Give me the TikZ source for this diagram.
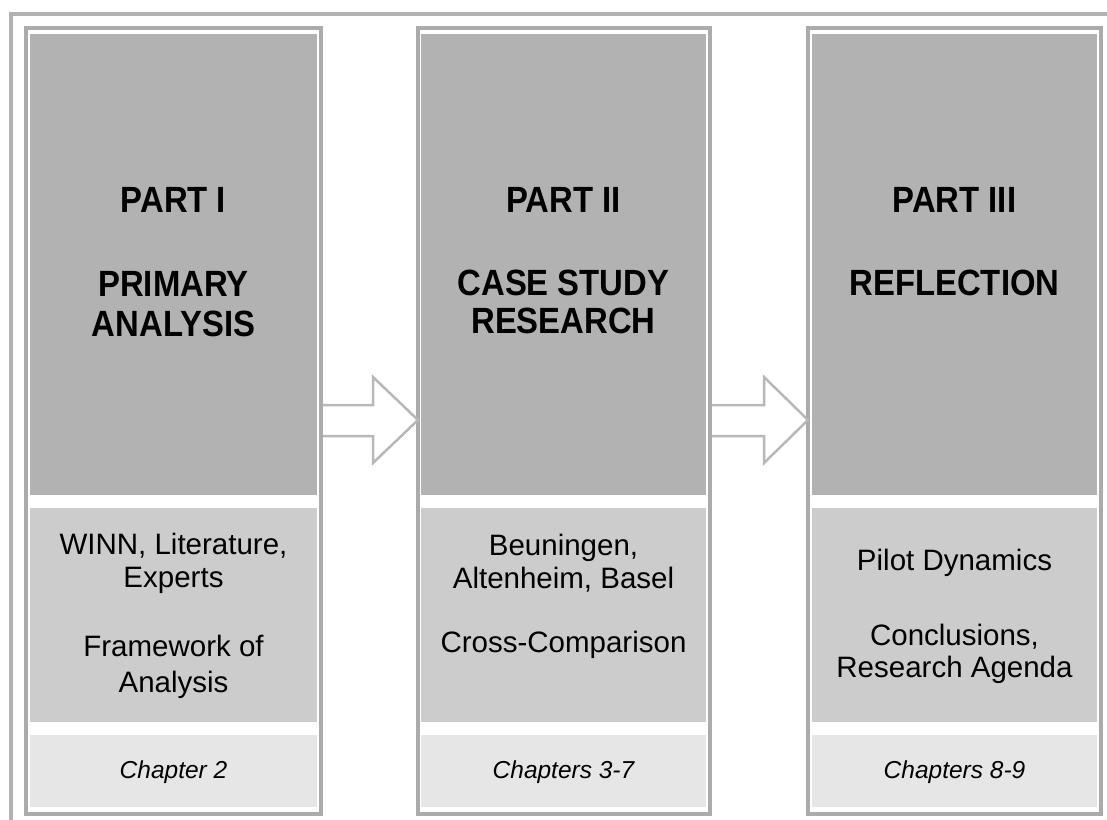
\documentclass[tikz,border=0pt]{standalone}
\usepackage{fontspec}
\setmainfont{Liberation Sans}
\newfontfamily\titlefont[FakeStretch=0.9]{Liberation Sans}
\usetikzlibrary{calc}

\definecolor{framegray}{HTML}{ABABAB}
\definecolor{outergray}{HTML}{B2B2B2}
\definecolor{headgray}{HTML}{B2B2B2}
\definecolor{bodygray}{HTML}{CCCCCC}
\definecolor{chapgray}{HTML}{E6E6E6}
\definecolor{arrowgray}{HTML}{B8B8B8}

\tikzset{
  colframe/.style={draw=framegray, line width=4pt, fill=white, outer sep=0pt, inner sep=0pt},
  headpanel/.style={fill=headgray, inner sep=0pt, outer sep=0pt, minimum height=461pt},
  bodypanel/.style={fill=bodygray, inner sep=0pt, outer sep=0pt, minimum height=214pt},
  chappanel/.style={fill=chapgray, inner sep=0pt, outer sep=0pt, minimum height=72pt},
  titletext/.style={anchor=base, inner sep=0pt, font=\titlefont\bfseries\fontsize{36.5}{40}\selectfont},
  bodytext/.style={anchor=base, inner sep=0pt, font=\fontsize{29.5}{34}\selectfont},
  chaptext/.style={anchor=base, inner sep=0pt, font=\itshape\fontsize{24.5}{28}\selectfont},
  flowarrow/.style={draw=arrowgray, line width=2.5pt, fill=white, line join=miter},
}

\begin{document}
\begin{tikzpicture}[x=1pt, y=-1pt]
  \useasboundingbox (0,0) rectangle (1107,819);
  \clip (0,0) rectangle (1107,819);

  % outer frame, visible along the top and left edges
  \draw[outergray, line width=3.5pt] (1110,14) -- (11,14) -- (11,830);

  % column frames
  \node[colframe, minimum width=294.5pt, minimum height=786pt] (col1) at (173.25,421) {};
  \node[colframe, minimum width=292pt,   minimum height=786pt] (col2) at (564,421) {};
  \node[colframe, minimum width=293pt,   minimum height=786pt] (col3) at (954.5,421) {};

  % arrows between the columns
  \draw[flowarrow] (col1.east |- 0,405) -- (373,405) -- (373,377)
      -- (col2.west |- 0,420) -- (373,463) -- (373,436) -- (col1.east |- 0,436) -- cycle;
  \draw[flowarrow] (col2.east |- 0,405) -- (764,405) -- (764,377)
      -- (col3.west |- 0,420) -- (764,463) -- (764,436) -- (col2.east |- 0,436) -- cycle;
  % redraw the frame edges the arrows start from
  \draw[framegray, line width=4pt] (col1.north east) -- (col1.south east);
  \draw[framegray, line width=4pt] (col2.north east) -- (col2.south east);

  % column 1 panels
  \node[headpanel, minimum width=287pt] (h1) at (173.5,264.5) {};
  \node[bodypanel, minimum width=287pt] (b1) at (173.5,615) {};
  \node[chappanel, minimum width=287pt] (c1) at (173.5,771) {};

  % column 2 panels
  \node[headpanel, minimum width=285pt] (h2) at (563.5,264.5) {};
  \node[bodypanel, minimum width=285pt] (b2) at (563.5,615) {};
  \node[chappanel, minimum width=285pt] (c2) at (563.5,771) {};

  % column 3 panels
  \node[headpanel, minimum width=285pt] (h3) at (954.5,264.5) {};
  \node[bodypanel, minimum width=285pt] (b3) at (954.5,615) {};
  \node[chappanel, minimum width=285pt] (c3) at (954.5,771) {};

  % titles
  \node[titletext] (t1a) at (173.5,212) {PART I};
  \node[titletext] (t1b) at (173.5,296) {PRIMARY};
  \node[titletext] (t1c) at (173.5,336) {ANALYSIS};

  \node[titletext] (t2a) at (563.5,212) {PART II};
  \node[titletext] (t2b) at (563.5,295) {CASE STUDY};
  \node[titletext] (t2c) at (563.5,333) {RESEARCH};

  \node[titletext] (t3a) at (954.5,212) {PART III};
  \node[titletext] (t3b) at (954.5,295) {REFLECTION};

  % body texts
  \node[bodytext] (s1a) at (173.5,554) {WINN, Literature,};
  \node[bodytext] (s1b) at (173.5,587) {Experts};
  \node[bodytext] (s1c) at (173.5,656) {Framework of};
  \node[bodytext] (s1d) at (173.5,692) {Analysis};

  \node[bodytext] (s2a) at (563.5,555) {Beuningen,};
  \node[bodytext] (s2b) at (563.5,588) {Altenheim, Basel};
  \node[bodytext] (s2c) at (563.5,652) {Cross-Comparison};

  \node[bodytext] (s3a) at (954.5,570) {Pilot Dynamics};
  \node[bodytext] (s3b) at (954.5,645) {Conclusions,};
  \node[bodytext] (s3c) at (954.5,677) {Research Agenda};

  % chapter references
  \node[chaptext] (r1) at (173.5,778) {Chapter 2};
  \node[chaptext] (r2) at (563.5,778) {Chapters 3-7};
  \node[chaptext] (r3) at (954.5,778) {Chapters 8-9};
\end{tikzpicture}
\end{document}
